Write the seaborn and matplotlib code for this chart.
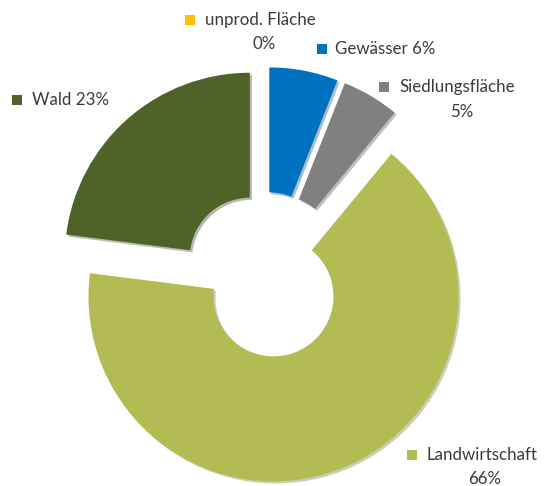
import matplotlib.pyplot as plt
import seaborn as sns

# Flächennutzung, Anteile in Prozent (im Uhrzeigersinn ab 12 Uhr)
categories = ['unprod. Fläche', 'Gewässer', 'Siedlungsfläche', 'Landwirtschaft', 'Wald']
shares = [0, 6, 5, 66, 23]
colors = ['#FFC000', '#0070C0', '#808080', '#B3BC52', '#4F6228']

sns.set_style('white')
plt.rcParams['font.family'] = ['Lato', 'DejaVu Sans']

W, H = 548, 486
fig = plt.figure(figsize=(W / 100, H / 100), dpi=100)
ax = fig.add_axes([0, 0, 1, 1])


def py(y):
    # pixel row -> data y
    return H - y


ax.pie(shares, colors=colors, startangle=90, counterclock=False,
       radius=185, center=(265, py(275)), explode=[23] * len(shares),
       wedgeprops=dict(width=125, linewidth=0),
       shadow=dict(ox=1.5, oy=-1.5, shade=0.4, alpha=0.35))

ax.set_xlim(0, W)
ax.set_ylim(0, H)
ax.set_aspect('equal')
ax.axis('off')

# label layout: square marker, name position, percent position (None = same line)
layout = [
    ((190, 20), (205, 20), (264, 44)),
    ((322, 49), (335, 49), None),
    ((384, 87), (399, 87), (462, 112)),
    ((412, 455), (426, 455), (485, 479)),
    ((17, 100), (32, 100), None),
]

txt = dict(fontsize=12.2, color='#3a3a3a', va='center')
for name, val, col, (sq, nm, pc) in zip(categories, shares, colors, layout):
    ax.scatter(sq[0], py(sq[1]), marker='s', s=45, color=col, linewidths=0)
    if pc is None:
        ax.text(nm[0], py(nm[1]), f'{name} {val}%', ha='left', **txt)
    else:
        ax.text(nm[0], py(nm[1]), name, ha='left', **txt)
        ax.text(pc[0], py(pc[1]), f'{val}%', ha='center', **txt)

fig.savefig('out.png', dpi=100)
